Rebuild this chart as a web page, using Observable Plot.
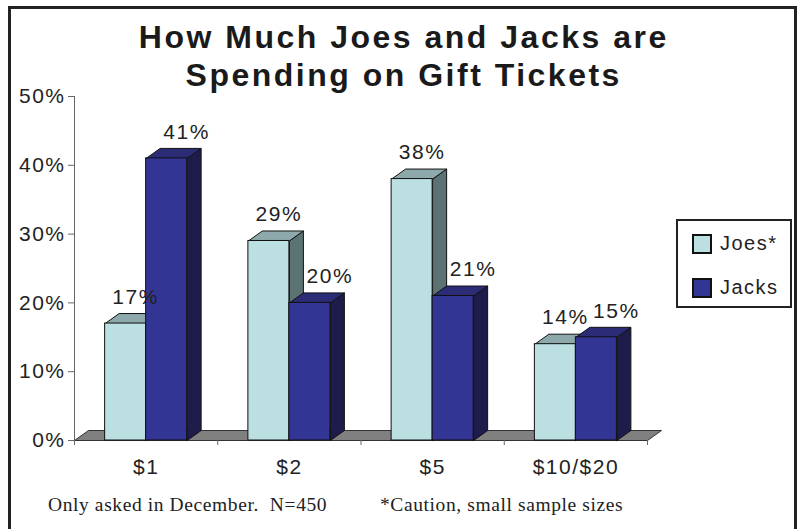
<!DOCTYPE html>
<html>
<head>
<meta charset="utf-8">
<script src="https://cdn.jsdelivr.net/npm/d3@7"></script>
<script src="https://cdn.jsdelivr.net/npm/@observablehq/plot@0.6"></script>
<style>
  html, body { margin: 0; padding: 0; background: #fff; overflow: hidden; }
  #wrap { position: relative; width: 800px; height: 529px; overflow: hidden; background: #fff; }
  #frame { position: absolute; left: 8px; top: 6px; width: 783px; height: 600px;
           border: 3px solid #222; border-bottom: none; }
  #title { position: absolute; left: 8px; width: 789px; top: 18px; text-align: center;
           font-family: "Liberation Sans", Arial, sans-serif; font-weight: bold; font-size: 32px;
           line-height: 38px; letter-spacing: 2.5px; padding-left: 2.5px; box-sizing: border-box; color: #1a1a1a; }
  #chart { position: absolute; left: 0; top: 78px; }
  #legend { position: absolute; left: 676px; top: 219px; width: 116px; height: 89px;
            border: 2px solid #222; box-sizing: border-box; background: #fff; }
  .item { position: absolute; left: 14px; height: 21px; display: flex; align-items: center;
          font-family: "Liberation Sans", Arial, sans-serif; font-size: 20px; letter-spacing: 1.5px; color: #222; }
  .sw { width: 20px; height: 20px; border: 2px solid #111; box-sizing: border-box; margin-right: 8px; }
  .foot { position: absolute; top: 495px; font-family: "Liberation Serif", "Times New Roman", serif;
          font-size: 19.5px; line-height: 20px; letter-spacing: 0.6px; color: #222; white-space: pre; }
</style>
</head>
<body>
<div id="wrap">
  <div id="frame"></div>
  <div id="title"></div>
  <div id="chart"></div>
  <div id="legend"></div>
  <div class="foot" id="foot1" style="left:48px"></div>
  <div class="foot" id="foot2" style="left:380px"></div>
</div>
<script>
// ---- data ----
const categories = ["$1", "$2", "$5", "$10/$20"];
const joes = [17, 29, 38, 14];
const jacks = [41, 20, 21, 15];
const seriesNames = ["Joes*", "Jacks"];
const yTicks = [0, 10, 20, 30, 40, 50];
const titleLines = ["How Much Joes and Jacks are", "Spending on Gift Tickets"];
const footnotes = ["Only asked in December.  N=450", "*Caution, small sample sizes"];

// ---- styles ----
const faceColors = [
  {front: "#BCDFE2", top: "#8EA9AB", side: "#5C7373"},
  {front: "#333594", top: "#2B2B76", side: "#1D1C4B"}
];
const W = 800, H = 410, ML = 74, MR = 153, MT = 18, MB = 48;
const yMax = 50;
const unitPx = (W - ML - MR) / categories.length;
const pxPerPct = (H - MT - MB) / yMax;
const DX = 14 / unitPx, DY = 10 / pxPerPct;  // 3-D depth in data units
const barW = 41 / unitPx;
const labelOffsetPx = [10, 20];

document.getElementById("title").innerHTML = titleLines.join("<br>");
document.getElementById("foot1").textContent = footnotes[0];
document.getElementById("foot2").textContent = footnotes[1];
const legend = document.getElementById("legend");
seriesNames.forEach((name, s) => {
  const it = document.createElement("div");
  it.className = "item";
  it.style.top = (s === 0 ? 12 : 56) + "px";
  const sw = document.createElement("div");
  sw.className = "sw";
  sw.style.background = faceColors[s].front;
  it.appendChild(sw);
  it.appendChild(document.createTextNode(name));
  legend.appendChild(it);
});

// ---- geometry from data ----
const series = [joes, jacks];
const bars = [];
categories.forEach((c, i) => {
  series.forEach((vals, s) => {
    const x1 = i + 0.5 - barW + s * barW;
    bars.push({cat: c, i, s, v: vals[i], x1, x2: x1 + barW});
  });
});
function poly(list, fn) {
  const out = [];
  list.forEach((b, k) => fn(b).forEach(([x, y]) => out.push({id: k, x, y})));
  return out;
}
const topPts = b => [[b.x1, b.v], [b.x2, b.v], [b.x2 + DX, b.v + DY], [b.x1 + DX, b.v + DY], [b.x1, b.v]];
const sidePts = b => [[b.x2, 0], [b.x2, b.v], [b.x2 + DX, b.v + DY], [b.x2 + DX, DY], [b.x2, 0]];
const n = categories.length;
const floorPts = [{id: 0, x: 0, y: 0}, {id: 0, x: n, y: 0}, {id: 0, x: n + DX, y: DY}, {id: 0, x: DX, y: DY}, {id: 0, x: 0, y: 0}];

const barMarks = [];
[0, 1].forEach(s => {
  const bs = bars.filter(b => b.s === s);
  const c = faceColors[s];
  barMarks.push(
    Plot.line(poly(bs, sidePts), {x: "x", y: "y", z: "id", fill: c.side, stroke: "#111", strokeWidth: 1, strokeLinejoin: "miter"}),
    Plot.line(poly(bs, topPts), {x: "x", y: "y", z: "id", fill: c.top, stroke: "#111", strokeWidth: 1, strokeLinejoin: "miter"}),
    Plot.rect(bs, {x1: "x1", x2: "x2", y1: 0, y2: "v", fill: c.front, stroke: "#111", strokeWidth: 1})
  );
});

const chart = Plot.plot({
  width: W, height: H,
  marginLeft: ML, marginRight: MR, marginTop: MT, marginBottom: MB,
  x: {type: "linear", domain: [0, n]},
  y: {domain: [0, yMax]},
  style: {fontFamily: "'Liberation Sans', Arial, sans-serif", fontSize: "21px", letterSpacing: "1.5px", color: "#222", background: "transparent", overflow: "visible"},
  marks: [
    Plot.line(floorPts, {x: "x", y: "y", z: "id", fill: "#808080", stroke: "#333", strokeWidth: 1, strokeLinejoin: "miter"}),
    Plot.ruleX([0], {y1: 0, y2: yMax, stroke: "#666", strokeWidth: 1}),
    Plot.axisY({ticks: yTicks, tickFormat: d => d + "%", tickSize: 6, tickPadding: 3, stroke: "#666", fill: "#222"}),
    Plot.axisX({ticks: d3.range(n + 1), tickSize: 5, tickFormat: () => "", stroke: "#666"}),
    ...barMarks,
    Plot.text(bars, {x: b => (b.x1 + b.x2) / 2 + labelOffsetPx[b.s] / unitPx, y: "v", dy: -26.5, text: b => b.v + "%", fill: "#222", lineAnchor: "middle"}),
    Plot.text(categories, {x: (d, i) => i + 0.5, y: 0, dy: 27, text: d => d, fill: "#222", lineAnchor: "middle"})
  ]
});
document.getElementById("chart").appendChild(chart);
</script>
</body>
</html>
